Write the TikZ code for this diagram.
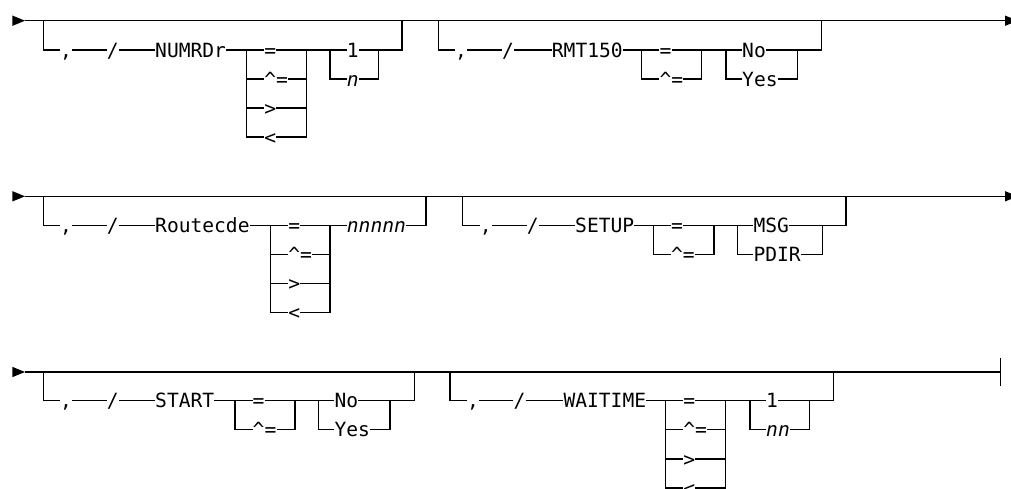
\documentclass[tikz,border=0pt]{standalone}
\usepackage{fontspec}
\newfontfamily\rrfont{DejaVu Sans Mono}
\tikzset{
  rl/.style={line width=1.2pt, line join=miter},
  kw/.style={font=\rrfont\fontsize{19.6}{22}\selectfont, inner sep=0pt, text height=14.2pt, text depth=0pt, anchor=west},
  var/.style={kw, font=\rrfont\fontsize{19.6}{22}\selectfont\itshape},
  tip/.style={fill=black},
}
\begin{document}
\begin{tikzpicture}[x=1pt,y=-1pt]
\useasboundingbox (0,0) rectangle (1011,489);
\clip (0,0) rectangle (1011,489);
\fill[white] (0,0) rectangle (1011,489);

% ---------------- Row 1 ----------------
\coordinate (r1s) at (25,20.7);
\coordinate (r1e) at (1005,20.7);
\fill[tip] (r1s) -- ++(-12.7,-5.2) -- ++(0,10.4) -- cycle;
\draw[rl] (r1s) -- (r1e);
\fill[tip] (r1e) -- ++(0,-5.2) -- ++(12.7,5.2) -- ++(-12.7,5.2) -- cycle;

% Group A : NUMRDr
\coordinate (aTL) at (43.3,20.7);
\node[kw] (aC) at (60,50) {,};
\node[kw] (aS) at (106.7,50) {/};
\node[kw] (aK) at (155,50) {NUMRDr};
\coordinate (aOL) at (246.7,50);
\node[kw] (aO1) at (264.2,50) {=};
\node[kw] (aO2) at (264.2,79) {\textasciicircum=};
\node[kw] (aO3) at (264.2,108) {>};
\node[kw] (aO4) at (264.2,137) {<};
\coordinate (aOR) at (306.7,50);
\coordinate (aVL) at (330,50);
\node[kw] (aV1) at (346.7,50) {1};
\node[var] (aV2) at (346.7,79) {n};
\coordinate (aVR) at (378.3,50);
\coordinate (aTR) at (402,20.7);
\draw[rl] (aTL) |- (aC.west);
\draw[rl] (aC.east) -- (aS.west);
\draw[rl] (aS.east) -- (aK.west);
\draw[rl] (aK.east) -- (aO1.west);
\draw[rl] (aOL) |- (aO4.west);
\draw[rl] (aOL |- aO2.west) -- (aO2.west);
\draw[rl] (aOL |- aO3.west) -- (aO3.west);
\draw[rl] (aO1.east) -- (aV1.west);
\draw[rl] (aO4.east) -| (aOR);
\draw[rl] (aO2.east) -- (aOR |- aO2.west);
\draw[rl] (aO3.east) -- (aOR |- aO3.west);
\draw[rl] (aVL) |- (aV2.west);
\draw[rl] (aV2.east) -| (aVR);
\draw[rl] (aV1.east) -| (aTR);

% Group B : RMT150
\coordinate (bTL) at (438.3,20.7);
\node[kw] (bC) at (455,50) {,};
\node[kw] (bS) at (502,50) {/};
\node[kw] (bK) at (551.7,50) {RMT150};
\coordinate (bOL) at (641.7,50);
\node[kw] (bO1) at (659.3,50) {=};
\node[kw] (bO2) at (659.3,79) {\textasciicircum=};
\coordinate (bOR) at (701.7,50);
\coordinate (bVL) at (726,50);
\node[kw] (bV1) at (742,50) {No};
\node[kw] (bV2) at (742,79) {Yes};
\coordinate (bVR) at (797.7,50);
\coordinate (bTR) at (821.7,20.7);
\draw[rl] (bTL) |- (bC.west);
\draw[rl] (bC.east) -- (bS.west);
\draw[rl] (bS.east) -- (bK.west);
\draw[rl] (bK.east) -- (bO1.west);
\draw[rl] (bOL) |- (bO2.west);
\draw[rl] (bO1.east) -- (bV1.west);
\draw[rl] (bO2.east) -| (bOR);
\draw[rl] (bVL) |- (bV2.west);
\draw[rl] (bV2.east) -| (bVR);
\draw[rl] (bV1.east) -| (bTR);

% ---------------- Row 2 ----------------
\coordinate (r2s) at (25,196.3);
\coordinate (r2e) at (1005,196.3);
\fill[tip] (r2s) -- ++(-12.7,-5.2) -- ++(0,10.4) -- cycle;
\draw[rl] (r2s) -- (r2e);
\fill[tip] (r2e) -- ++(0,-5.2) -- ++(12.7,5.2) -- ++(-12.7,5.2) -- cycle;

% Group C : Routecde
\coordinate (cTL) at (43.3,196.3);
\node[kw] (cC) at (60,225.7) {,};
\node[kw] (cS) at (106.7,225.7) {/};
\node[kw] (cK) at (155,225.7) {Routecde};
\coordinate (cOL) at (270.7,225.7);
\node[kw] (cO1) at (288.2,225.7) {=};
\node[kw] (cO2) at (288.2,254.5) {\textasciicircum=};
\node[kw] (cO3) at (288.2,283.3) {>};
\node[kw] (cO4) at (288.2,312.7) {<};
\coordinate (cOR) at (330,225.7);
\node[var] (cV) at (346.7,225.7) {nnnnn};
\coordinate (cTR) at (426,196.3);
\draw[rl] (cTL) |- (cC.west);
\draw[rl] (cC.east) -- (cS.west);
\draw[rl] (cS.east) -- (cK.west);
\draw[rl] (cK.east) -- (cO1.west);
\draw[rl] (cOL) |- (cO4.west);
\draw[rl] (cOL |- cO2.west) -- (cO2.west);
\draw[rl] (cOL |- cO3.west) -- (cO3.west);
\draw[rl] (cO1.east) -- (cV.west);
\draw[rl] (cO4.east) -| (cOR);
\draw[rl] (cO2.east) -- (cOR |- cO2.west);
\draw[rl] (cO3.east) -- (cOR |- cO3.west);
\draw[rl] (cV.east) -| (cTR);

% Group D : SETUP
\coordinate (dTL) at (462.7,196.3);
\node[kw] (dC) at (479.7,225.7) {,};
\node[kw] (dS) at (526.7,225.7) {/};
\node[kw] (dK) at (575,225.7) {SETUP};
\coordinate (dOL) at (653.3,225.7);
\node[kw] (dO1) at (670.8,225.7) {=};
\node[kw] (dO2) at (670.8,254.5) {\textasciicircum=};
\coordinate (dOR) at (714,225.7);
\coordinate (dVL) at (737.3,225.7);
\node[kw] (dV1) at (753.3,225.7) {MSG};
\node[kw] (dV2) at (753.3,254.5) {PDIR};
\coordinate (dVR) at (822.3,225.7);
\coordinate (dTR) at (846,196.3);
\draw[rl] (dTL) |- (dC.west);
\draw[rl] (dC.east) -- (dS.west);
\draw[rl] (dS.east) -- (dK.west);
\draw[rl] (dK.east) -- (dO1.west);
\draw[rl] (dOL) |- (dO2.west);
\draw[rl] (dO1.east) -- (dV1.west);
\draw[rl] (dO2.east) -| (dOR);
\draw[rl] (dVL) |- (dV2.west);
\draw[rl] (dV2.east) -| (dVR);
\draw[rl] (dV1.east) -| (dTR);

% ---------------- Row 3 ----------------
\coordinate (r3s) at (25,372);
\coordinate (r3e) at (1000.7,372);
\fill[tip] (r3s) -- ++(-12.7,-5.2) -- ++(0,10.4) -- cycle;
\draw[rl] (r3s) -- (r3e);
\draw[rl] (r3e) ++(0,-14) -- ++(0,28);

% Group E : START
\coordinate (eTL) at (43.3,372);
\node[kw] (eC) at (60,400.5) {,};
\node[kw] (eS) at (106.7,400.5) {/};
\node[kw] (eK) at (155,400.5) {START};
\coordinate (eOL) at (235,400.5);
\node[kw] (eO1) at (252.5,400.5) {=};
\node[kw] (eO2) at (252.5,429.5) {\textasciicircum=};
\coordinate (eOR) at (295,400.5);
\coordinate (eVL) at (318.3,400.5);
\node[kw] (eV1) at (334.3,400.5) {No};
\node[kw] (eV2) at (334.3,429.5) {Yes};
\coordinate (eVR) at (390,400.5);
\coordinate (eTR) at (414.3,372);
\draw[rl] (eTL) |- (eC.west);
\draw[rl] (eC.east) -- (eS.west);
\draw[rl] (eS.east) -- (eK.west);
\draw[rl] (eK.east) -- (eO1.west);
\draw[rl] (eOL) |- (eO2.west);
\draw[rl] (eO1.east) -- (eV1.west);
\draw[rl] (eO2.east) -| (eOR);
\draw[rl] (eVL) |- (eV2.west);
\draw[rl] (eV2.east) -| (eVR);
\draw[rl] (eV1.east) -| (eTR);

% Group F : WAITIME
\coordinate (fTL) at (450,372);
\node[kw] (fC) at (467,400.5) {,};
\node[kw] (fS) at (513.3,400.5) {/};
\node[kw] (fK) at (563.3,400.5) {WAITIME};
\coordinate (fOL) at (665.7,400.5);
\node[kw] (fO1) at (683.2,400.5) {=};
\node[kw] (fO2) at (683.2,429.5) {\textasciicircum=};
\node[kw] (fO3) at (683.2,459) {>};
\node[kw] (fO4) at (683.2,488) {<};
\coordinate (fOR) at (725.7,400.5);
\coordinate (fVL) at (750,400.5);
\node[kw] (fV1) at (766,400.5) {1};
\node[var] (fV2) at (766,429.5) {nn};
\coordinate (fVR) at (809.3,400.5);
\coordinate (fTR) at (833.3,372);
\draw[rl] (fTL) |- (fC.west);
\draw[rl] (fC.east) -- (fS.west);
\draw[rl] (fS.east) -- (fK.west);
\draw[rl] (fK.east) -- (fO1.west);
\draw[rl] (fOL) |- (fO4.west);
\draw[rl] (fOL |- fO2.west) -- (fO2.west);
\draw[rl] (fOL |- fO3.west) -- (fO3.west);
\draw[rl] (fO1.east) -- (fV1.west);
\draw[rl] (fO4.east) -| (fOR);
\draw[rl] (fO2.east) -- (fOR |- fO2.west);
\draw[rl] (fO3.east) -- (fOR |- fO3.west);
\draw[rl] (fVL) |- (fV2.west);
\draw[rl] (fV2.east) -| (fVR);
\draw[rl] (fV1.east) -| (fTR);
\coordinate (fD1) at (839,372);
\coordinate (fD2) at (863,372);
\draw[line width=2.4pt] (fD1) -- (fD2);
\end{tikzpicture}
\end{document}
